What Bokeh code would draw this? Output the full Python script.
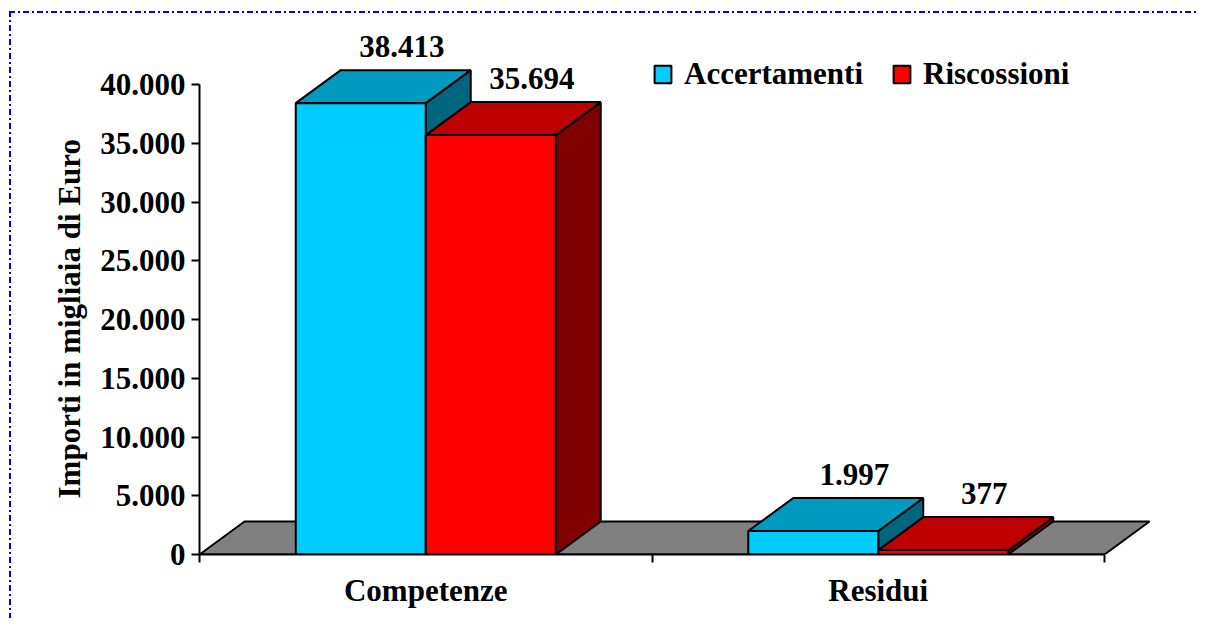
from bokeh.plotting import figure
from bokeh.models import Range1d, FixedTicker, Legend, LegendItem, ColumnDataSource, LabelSet, Title
from bokeh.embed import file_html
from bokeh.resources import INLINE
from bokeh.core.properties import value

# ---- data ----
categories = ["Competenze", "Residui"]
series_names = ["Accertamenti", "Riscossioni"]
accertamenti = [38413, 1997]
riscossioni = [35694, 377]
y_ticks = [0, 5000, 10000, 15000, 20000, 25000, 30000, 35000, 40000]
y_title = "Importi in migliaia di Euro"

# ---- styles ----
front_colors = ["#00CCFF", "#FF0000"]
top_colors = ["#0099BF", "#BF0000"]
side_colors = ["#006680", "#800000"]
floor_color = "#808080"
FONT = "Liberation Serif"
FS = "31px"

# ---- geometry (pixels) ----
PX_PER_CAT = 452.5
PX_PER_UNIT = 0.01175
FRAME_W, FRAME_H = 996, 540
DEPTH_X_PX, DEPTH_Y_PX = 45, 33
BAR_PX = 130

dx = DEPTH_X_PX / PX_PER_CAT
dy = DEPTH_Y_PX / PX_PER_UNIT
bw = BAR_PX / PX_PER_CAT
ncat = len(categories)

p = figure(
    frame_width=FRAME_W, frame_height=FRAME_H,
    min_border_left=199, min_border_top=14, min_border_right=4, min_border_bottom=64,
    x_range=Range1d(0, FRAME_W / PX_PER_CAT), y_range=Range1d(0, FRAME_H / PX_PER_UNIT),
    output_backend="svg", toolbar_location=None,
)
p.border_fill_color = None
p.background_fill_color = "white"
p.outline_line_color = None
p.xgrid.visible = False
p.ygrid.visible = False

pattern = "#0000ff 0 6px, transparent 6px 9px, #0000ff 9px 11px, transparent 11px 14px"
p.styles = {
    "background-image": f"repeating-linear-gradient(to right, {pattern}), repeating-linear-gradient(to bottom, {pattern})",
    "background-size": "100% 2px, 2px 100%",
    "background-repeat": "no-repeat",
    "background-position": "9px 11px, 9px 11px",
}

# floor
p.patch([0, ncat, ncat + dx, dx], [0, 0, dy, dy], fill_color=floor_color,
        line_color="black", line_width=2)

front_renderers = []
label_x, label_y, label_t = [], [], []
for j, vals in enumerate([accertamenti, riscossioni]):
    fx, fy, tx, ty, sx, sy = [], [], [], [], [], []
    for i, v in enumerate(vals):
        x0 = i + 0.5 - bw + j * bw
        x1 = x0 + bw
        fx.append([x0, x1, x1, x0]); fy.append([0, 0, v, v])
        tx.append([x0, x1, x1 + dx, x0 + dx]); ty.append([v, v, v + dy, v + dy])
        sx.append([x1, x1 + dx, x1 + dx, x1]); sy.append([0, dy, v + dy, v])
        label_x.append(x0 + bw / 2 + dx)
        label_y.append(v + dy)
        label_t.append(f"{v:,}".replace(",", "."))
    p.patches(sx, sy, fill_color=side_colors[j], line_color="black", line_width=2)
    p.patches(tx, ty, fill_color=top_colors[j], line_color="black", line_width=2)
    r = p.patches(fx, fy, fill_color=front_colors[j], line_color="black", line_width=2)
    front_renderers.append(r)

src = ColumnDataSource(dict(x=label_x, y=label_y, t=label_t))
labels = LabelSet(x="x", y="y", text="t", source=src, y_offset=13, x_offset=-4,
                  text_align="center", text_baseline="alphabetic",
                  text_font=value(FONT), text_font_style="bold",
                  text_font_size=FS, text_color="black")
p.add_layout(labels)

# axes
xa = p.xaxis[0]
xa.ticker = FixedTicker(ticks=[i + 0.5 for i in range(ncat)], minor_ticks=list(range(ncat + 1)))
xa.major_label_overrides = {i + 0.5: c for i, c in enumerate(categories)}
xa.bounds = (0, ncat)
xa.major_tick_line_color = None
xa.minor_tick_out = 8
xa.minor_tick_in = 0
xa.minor_tick_line_width = 2
xa.minor_tick_line_color = "black"
xa.axis_line_width = 2
xa.axis_line_color = "black"
xa.major_label_standoff = 10

ya = p.yaxis[0]
ya.ticker = FixedTicker(ticks=y_ticks, minor_ticks=[])
ya.major_label_overrides = {t: f"{t:,}".replace(",", ".") for t in y_ticks}
ya.bounds = (y_ticks[0], y_ticks[-1])
ya.major_tick_out = 8
ya.major_tick_in = 0
ya.major_tick_line_width = 2
ya.minor_tick_line_color = None
ya.axis_line_width = 2
ya.axis_line_color = "black"
ya.major_label_standoff = 6

for ax in (xa, ya):
    ax.major_label_text_font = FONT
    ax.major_label_text_font_style = "bold"
    ax.major_label_text_font_size = FS
    ax.major_label_text_color = "black"

# y-axis title, placed along the axis extent rather than centred on the frame
ytitle = Title(text=y_title, align="left", offset=56, standoff=22,
               text_font=FONT, text_font_style="bold", text_font_size=FS,
               text_color="black")
p.add_layout(ytitle, "left")

legend = Legend(
    items=[LegendItem(label=n, renderers=[r]) for n, r in zip(series_names, front_renderers)],
    orientation="horizontal", location=(453, 462),
    glyph_width=21, glyph_height=22, label_standoff=11, spacing=28,
    padding=0, margin=0, border_line_color=None, background_fill_alpha=0,
    label_text_font=FONT, label_text_font_style="bold", label_text_font_size=FS,
    label_text_color="black",
)
p.add_layout(legend)

open("out.html", "w").write(file_html(p, INLINE))
